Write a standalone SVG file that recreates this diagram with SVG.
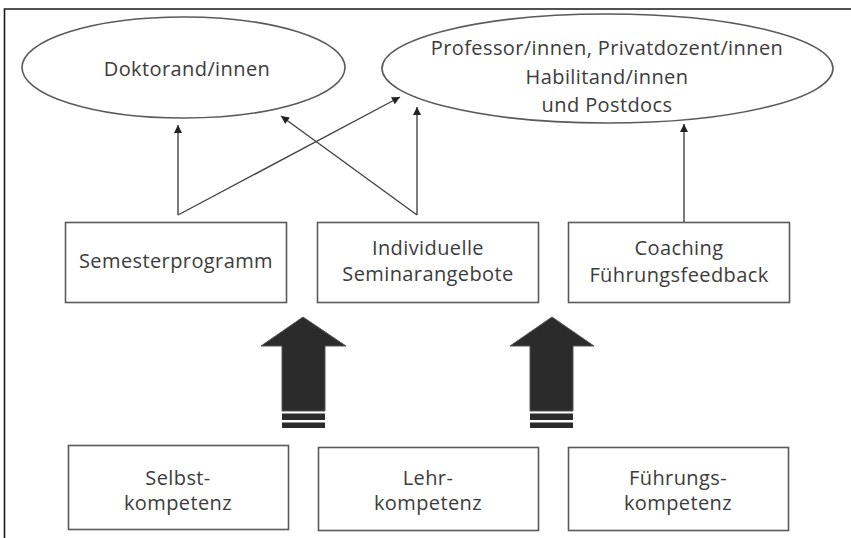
<svg xmlns="http://www.w3.org/2000/svg" width="851" height="538" viewBox="0 0 851 538">
<style>
.shape{fill:#fff;stroke:#5a5a5a;stroke-width:1.6}
.lbl{font-family:"Open Sans","Noto Sans",sans-serif;font-size:20px;letter-spacing:0.4px;fill:#3c3c3c;text-anchor:middle}
.con{stroke:#444;stroke-width:1.4;fill:none}
.big{fill:#2b2b2b;stroke:#555;stroke-width:1}
.frame{stroke:#1a1a1a;stroke-width:1.6;fill:none}
</style>
<defs>
<marker id="ah" viewBox="0 0 10 10" refX="10" refY="5" markerWidth="9" markerHeight="8" markerUnits="userSpaceOnUse" orient="auto">
<path d="M0,0 L10,5 L0,10 z" fill="#222"/>
</marker>
</defs>
<rect width="851" height="538" fill="#fff"/>
<path class="frame" d="M4.5,538 L4.5,9 L851,9"/>

<g id="doktorand">
<ellipse class="shape" cx="183.5" cy="67.5" rx="161.5" ry="50.5"/>
<text class="lbl" x="187" y="76">Doktorand/innen</text>
</g>
<g id="professoren">
<ellipse class="shape" cx="607.5" cy="68.5" rx="225.5" ry="54.5"/>
<text class="lbl" x="607" y="55">Professor/innen, Privatdozent/innen</text>
<text class="lbl" x="607" y="84">Habilitand/innen</text>
<text class="lbl" x="607" y="112">und Postdocs</text>
</g>

<g id="semesterprogramm">
<rect class="shape" x="65.5" y="222.5" width="221" height="80"/>
<text class="lbl" x="176" y="268">Semesterprogramm</text>
</g>
<g id="seminarangebote">
<rect class="shape" x="317.5" y="222.5" width="221" height="80"/>
<text class="lbl" x="428" y="255">Individuelle</text>
<text class="lbl" x="428" y="281">Seminarangebote</text>
</g>
<g id="coaching">
<rect class="shape" x="568.5" y="222.5" width="221" height="80"/>
<text class="lbl" x="679" y="255">Coaching</text>
<text class="lbl" x="679" y="282">Führungsfeedback</text>
</g>

<g id="selbstkompetenz">
<rect class="shape" x="68.5" y="445.5" width="220" height="84"/>
<text class="lbl" x="178" y="485">Selbst-</text>
<text class="lbl" x="178" y="510">kompetenz</text>
</g>
<g id="lehrkompetenz">
<rect class="shape" x="318.5" y="447.5" width="220" height="83"/>
<text class="lbl" x="428" y="485">Lehr-</text>
<text class="lbl" x="428" y="510">kompetenz</text>
</g>
<g id="fuehrungskompetenz">
<rect class="shape" x="568.5" y="447.5" width="220" height="83"/>
<text class="lbl" x="678" y="485">Führungs-</text>
<text class="lbl" x="678" y="510">kompetenz</text>
</g>

<g id="connectors">
<line class="con" x1="178" y1="215" x2="178" y2="125" marker-end="url(#ah)"/>
<line class="con" x1="178" y1="215" x2="400" y2="97" marker-end="url(#ah)"/>
<line class="con" x1="417" y1="215" x2="417" y2="107" marker-end="url(#ah)"/>
<line class="con" x1="417" y1="215" x2="281" y2="116" marker-end="url(#ah)"/>
<line class="con" x1="684" y1="222" x2="684" y2="124" marker-end="url(#ah)"/>
<g id="bigarrow1">
<polygon class="big" points="303,317 346,346 325,346 325,411 282,411 282,346 261,346"/>
<rect x="282" y="413.5" width="43" height="6.5" fill="#2b2b2b"/>
<rect x="282" y="422.5" width="43" height="5.5" fill="#2b2b2b"/>
</g>
<g id="bigarrow2">
<polygon class="big" points="552,317 594,346 573,346 573,411 530,411 530,346 510,346"/>
<rect x="530" y="413.5" width="43" height="6.5" fill="#2b2b2b"/>
<rect x="530" y="422.5" width="43" height="5.5" fill="#2b2b2b"/>
</g>
</g>
</svg>
